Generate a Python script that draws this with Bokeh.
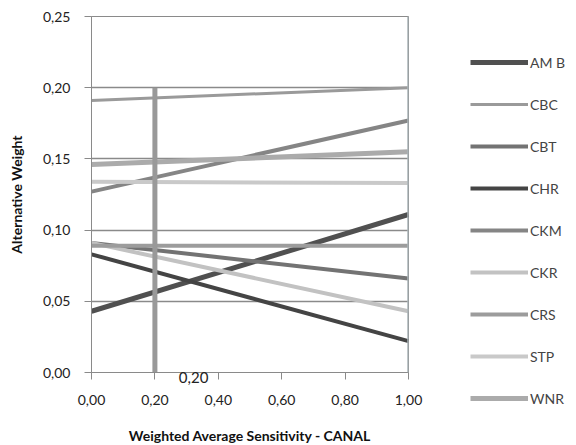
from bokeh.plotting import figure
from bokeh.models import Legend, LegendItem, FixedTicker, Span, Range1d, Label
from bokeh.embed import file_html
from bokeh.resources import INLINE

# Data
x_vals = [0.0, 1.0]
series_names = ["AMB", "CBC", "CBT", "CHR", "CKM", "CKR", "CRS", "STP", "WNR"]
legend_labels = ["AM B", "CBC", "CBT", "CHR", "CKM", "CKR", "CRS", "STP", "WNR"]
amb = [0.043, 0.111]
cbc = [0.191, 0.200]
cbt = [0.091, 0.066]
chr_ = [0.083, 0.022]
ckm = [0.127, 0.177]
ckr = [0.091, 0.043]
crs = [0.089, 0.089]
stp = [0.134, 0.133]
wnr = [0.146, 0.155]
series_values = [amb, cbc, cbt, chr_, ckm, ckr, crs, stp, wnr]
x_ticks = [0.0, 0.2, 0.4, 0.6, 0.8, 1.0]
x_tick_labels = ["0,00", "0,20", "0,40", "0,60", "0,80", "1,00"]
y_ticks = [0.0, 0.05, 0.10, 0.15, 0.20, 0.25]
y_tick_labels = ["0,00", "0,05", "0,10", "0,15", "0,20", "0,25"]
marker_x = 0.2
marker_top = 0.20
marker_label = "0,20"
marker_label_x = 0.322

colors = ["#505050", "#9a9a9a", "#737373", "#444444", "#858585",
          "#c2c2c2", "#9c9c9c", "#c9c9c9", "#ababab"]
widths = [5, 3, 4, 4, 4, 4, 4, 4, 5]

FONT = "Lato"

p = figure(frame_width=317, frame_height=356, output_backend="svg", toolbar_location=None,
           x_range=Range1d(0, 1), y_range=Range1d(0, 0.25),
           min_border_left=91, min_border_right=10, min_border_top=16,
           min_border_bottom=10, outline_line_color="#8a8a8a", outline_line_width=1)
p.background_fill_color = "white"
p.border_fill_color = "white"

# grid
p.xgrid.grid_line_color = None
p.ygrid.ticker = FixedTicker(ticks=y_ticks)
p.ygrid.grid_line_color = "#8a8a8a"
p.ygrid.grid_line_width = 1.5

# axes
p.xaxis.ticker = FixedTicker(ticks=x_ticks)
p.xaxis.major_label_overrides = {t: l for t, l in zip(x_ticks, x_tick_labels)}
p.yaxis.ticker = FixedTicker(ticks=y_ticks)
p.yaxis.major_label_overrides = {t: l for t, l in zip(y_ticks, y_tick_labels)}
for ax in (p.xaxis[0], p.yaxis[0]):
    ax.axis_line_color = "#8a8a8a"
    ax.major_tick_line_color = "#8a8a8a"
    ax.major_tick_in = 0
    ax.major_tick_out = 7
    ax.minor_tick_line_color = None
    ax.major_label_text_font = FONT
    ax.major_label_text_font_size = "14px"
    ax.major_label_text_color = "#222222"
    ax.axis_label_text_font = FONT
    ax.axis_label_text_font_style = "bold"
    ax.axis_label_text_font_size = "14px"
    ax.axis_label_text_color = "#111111"
p.xaxis.axis_label = "Weighted Average Sensitivity - CANAL"
p.yaxis.axis_label = "Alternative Weight"
p.xaxis.major_label_standoff = 15
p.xaxis.axis_label_standoff = 19
p.yaxis.major_label_standoff = 14
p.yaxis.axis_label_standoff = 15

# right edge line
p.add_layout(Span(location=1.0, dimension="height", line_color="#aab4b8", line_width=2.5))

items = []
for name, lab, vals, c, w in zip(series_names, legend_labels, series_values, colors, widths):
    r = p.line(x_vals, vals, line_color=c, line_width=w)
    items.append(LegendItem(label=lab, renderers=[r]))

# marker vertical line
p.segment(x0=[marker_x], y0=[0], x1=[marker_x], y1=[marker_top], line_color="#999999", line_width=5)
p.add_layout(Label(x=marker_label_x, y=0, text=marker_label, text_font=FONT, text_font_size="15px",
                   text_align="center", text_baseline="middle", y_offset=-5,
                   text_color="#222222", level="overlay"), "below")

legend = Legend(items=items, location=(62, -36), orientation="vertical",
                glyph_width=58, glyph_height=20, label_height=20, spacing=22,
                label_text_font=FONT, label_text_font_size="14px", label_standoff=2,
                border_line_color=None, background_fill_alpha=0, padding=0, margin=0)
p.add_layout(legend, "right")

open("out.html", "w").write(file_html(p, INLINE))
